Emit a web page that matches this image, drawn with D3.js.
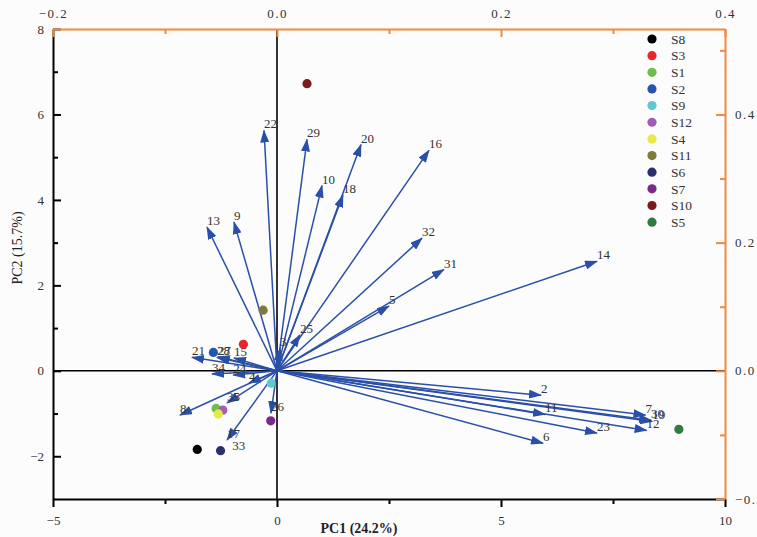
<!DOCTYPE html>
<html>
<head>
<meta charset="utf-8">
<script src="https://cdn.jsdelivr.net/npm/d3@7"></script>
<style>
  body { margin: 0; background: #fcfcfc; }
  svg { display: block; font-family: "Liberation Serif", "DejaVu Serif", serif; }
</style>
</head>
<body>
<svg id="chart"></svg>
<script>
// variable loadings (top / right axes)
const variables = ["22", "29", "20", "16", "10", "18", "32", "31", "14", "5", "13", "9", "25", "3",
  "21", "27", "28", "15", "34", "24", "4", "35", "8", "17", "26", "2", "11", "6", "23", "12", "7", "30", "19"];
const loadPC1 = [-0.0116, 0.0268, 0.075, 0.1357, 0.0402, 0.0589, 0.1295, 0.149, 0.2857, 0.100, -0.0625, -0.0384, 0.0205, 0.0027,
  -0.0759, -0.0527, -0.0536, -0.0384, -0.058, -0.039, -0.025, -0.0446, -0.0866, -0.0446, -0.0054, 0.2357, 0.2393, 0.2375, 0.2857, 0.330, 0.329, 0.334, 0.335];
const loadPC2 = [0.375, 0.361, 0.353, 0.344, 0.289, 0.274, 0.207, 0.158, 0.171, 0.101, 0.224, 0.232, 0.056, 0.035,
  0.021, 0.022, 0.021, 0.020, -0.005, -0.0067, -0.019, -0.050, -0.069, -0.108, -0.066, -0.038, -0.068, -0.113, -0.097, -0.093, -0.069, -0.077, -0.079];
// label with no visible arrow
const labelOnly = ["33"];
const labelOnlyPC1 = [-0.040];
const labelOnlyPC2 = [-0.127];

// sample scores (bottom / left axes)
const samples = ["S8", "S3", "S1", "S2", "S9", "S12", "S4", "S11", "S6", "S7", "S10", "S5"];
const scorePC1 = [-1.78, -0.75, -1.36, -1.42, -0.13, -1.21, -1.31, -0.31, -1.26, -0.14, 0.67, 8.97];
const scorePC2 = [-1.84, 0.62, -0.88, 0.43, -0.29, -0.92, -1.01, 1.42, -1.87, -1.17, 6.72, -1.37];
const sampleColors = ["#000000", "#e8262a", "#6cc04a", "#2456b0", "#5bc8d2", "#a45db5",
  "#e9e84a", "#7d7a3a", "#2e2e6e", "#7a2a8a", "#7a1a1e", "#2e7d3e"];

const xMajor = [-5, 0, 5, 10];
const xMinor = [-2.5, 2.5, 7.5];
const yMajor = [-2, 0, 2, 4, 6, 8];
const yMinor = [-1, 1, 3, 5, 7];
const topMajor = [-0.2, 0, 0.2, 0.4];
const topMinor = [-0.1, 0.1, 0.3];
const rightMajor = [-0.2, 0, 0.2, 0.4];
const rightMinor = [-0.1, 0.1, 0.3, 0.5];

const width = 757, height = 537;
const plotLeft = 53, plotRight = 725, plotTop = 29, plotBottom = 499;
const orange = "#ef8a3e";
const arrowBlue = "#2a4fa8";

const svg = d3.select("#chart").attr("width", width).attr("height", height);
svg.append("rect").attr("width", width).attr("height", height).attr("fill", "#fcfcfc");

const x = d3.scaleLinear().domain([-5, 10]).range([plotLeft, plotRight]);
const y = d3.scaleLinear().domain([-3, 8]).range([plotBottom, plotTop]);
const xt = d3.scaleLinear().domain([-0.2, 0.4]).range([plotLeft, plotRight]);
const yr = d3.scaleLinear().domain([-0.2, 8 / 15]).range([plotBottom, plotTop]);

const fmt = d3.format(".1f");

// zero lines
svg.append("line")
  .attr("x1", x(0)).attr("x2", x(0)).attr("y1", plotTop).attr("y2", plotBottom)
  .attr("stroke", "#000").attr("stroke-width", 1.6);
svg.append("line")
  .attr("x1", plotLeft).attr("x2", plotRight).attr("y1", y(0)).attr("y2", y(0))
  .attr("stroke", "#000").attr("stroke-width", 1.6);

// left axis
const gLeft = svg.append("g").attr("transform", `translate(${plotLeft},0)`);
gLeft.call(d3.axisLeft(y).tickValues(yMajor).tickSizeInner(-8).tickSizeOuter(0).tickPadding(9).tickFormat(d3.format("")));
gLeft.append("g").call(d3.axisLeft(y).tickValues(yMinor).tickSizeInner(-5).tickSizeOuter(0).tickFormat(""))
  .select(".domain").remove();

// bottom axis
const gBottom = svg.append("g").attr("transform", `translate(0,${plotBottom})`);
gBottom.call(d3.axisBottom(x).tickValues(xMajor).tickSize(8).tickSizeOuter(0).tickPadding(9).tickFormat(d3.format("")));
gBottom.append("g").call(d3.axisBottom(x).tickValues(xMinor).tickSize(5).tickSizeOuter(0).tickFormat(""))
  .select(".domain").remove();

[gLeft, gBottom].forEach(g => {
  g.selectAll("path, line").attr("stroke", "#000").attr("stroke-width", 2);
  g.selectAll("text").attr("fill", "#333").style("font-size", "13px")
    .style("font-family", "'Liberation Serif', serif");
});

// top axis
const gTop = svg.append("g").attr("transform", `translate(0,${plotTop})`);
gTop.call(d3.axisTop(xt).tickValues(topMajor).tickSizeInner(-8).tickSizeOuter(0).tickPadding(11).tickFormat(fmt));
gTop.append("g").call(d3.axisTop(xt).tickValues(topMinor).tickSizeInner(-5).tickSizeOuter(0).tickFormat(""))
  .select(".domain").remove();

// right axis
const gRight = svg.append("g").attr("transform", `translate(${plotRight},0)`);
gRight.call(d3.axisRight(yr).tickValues(rightMajor).tickSizeInner(-9).tickSizeOuter(0).tickPadding(10).tickFormat(fmt));
gRight.append("g").call(d3.axisRight(yr).tickValues(rightMinor).tickSizeInner(-5).tickSizeOuter(0).tickFormat(""))
  .select(".domain").remove();

[gTop, gRight].forEach(g => {
  g.selectAll("path, line").attr("stroke", orange).attr("stroke-width", 2);
  g.selectAll("text").attr("fill", "#333").style("font-size", "13px")
    .style("letter-spacing", "1.5px")
    .style("font-family", "'Liberation Serif', serif");
});

// arrowhead
svg.append("defs").append("marker")
  .attr("id", "head")
  .attr("markerUnits", "userSpaceOnUse")
  .attr("viewBox", "0 0 13 9")
  .attr("markerWidth", 13).attr("markerHeight", 9)
  .attr("refX", 12).attr("refY", 4.5)
  .attr("orient", "auto")
  .append("path").attr("d", "M0,0 L13,4.5 L0,9 Z").attr("fill", arrowBlue);

const loadings = variables.map((v, i) => ({ name: v, px: loadPC1[i], py: loadPC2[i] }));

svg.append("g").selectAll("line")
  .data(loadings)
  .enter().append("line")
  .attr("x1", xt(0)).attr("y1", yr(0))
  .attr("x2", d => xt(d.px)).attr("y2", d => yr(d.py))
  .attr("stroke", arrowBlue)
  .attr("stroke-width", 1.5)
  .attr("marker-end", "url(#head)");

const labels = loadings.concat(labelOnly.map((v, i) => ({ name: v, px: labelOnlyPC1[i], py: labelOnlyPC2[i] })));
svg.append("g").selectAll("text")
  .data(labels)
  .enter().append("text")
  .attr("x", d => xt(d.px))
  .attr("y", d => yr(d.py) - 2)
  .attr("fill", "#333")
  .style("font-size", "13px")
  .text(d => d.name);

// sample points
const scores = samples.map((s, i) => ({ name: s, sx: scorePC1[i], sy: scorePC2[i], color: sampleColors[i] }));
svg.append("g").selectAll("circle")
  .data(scores)
  .enter().append("circle")
  .attr("cx", d => x(d.sx))
  .attr("cy", d => y(d.sy))
  .attr("r", 4.6)
  .attr("fill", d => d.color);

// legend
const legend = svg.append("g").attr("transform", "translate(652,39)");
const rows = legend.selectAll("g")
  .data(scores)
  .enter().append("g")
  .attr("transform", (d, i) => `translate(0,${i * 16.65})`);
rows.append("circle").attr("r", 4.6).attr("fill", d => d.color);
rows.append("text")
  .attr("x", 19).attr("dy", "0.35em")
  .attr("fill", "#333")
  .style("font-size", "13.5px")
  .text(d => d.name);

// axis titles
svg.append("text")
  .attr("x", 359).attr("y", 533)
  .attr("text-anchor", "middle")
  .attr("fill", "#222")
  .style("font-size", "14px").style("font-weight", "bold")
  .text("PC1 (24.2%)");

svg.append("text")
  .attr("transform", "translate(22,248) rotate(-90)")
  .attr("text-anchor", "middle")
  .attr("fill", "#222")
  .style("font-size", "14px")
  .text("PC2 (15.7%)");
</script>
</body>
</html>
